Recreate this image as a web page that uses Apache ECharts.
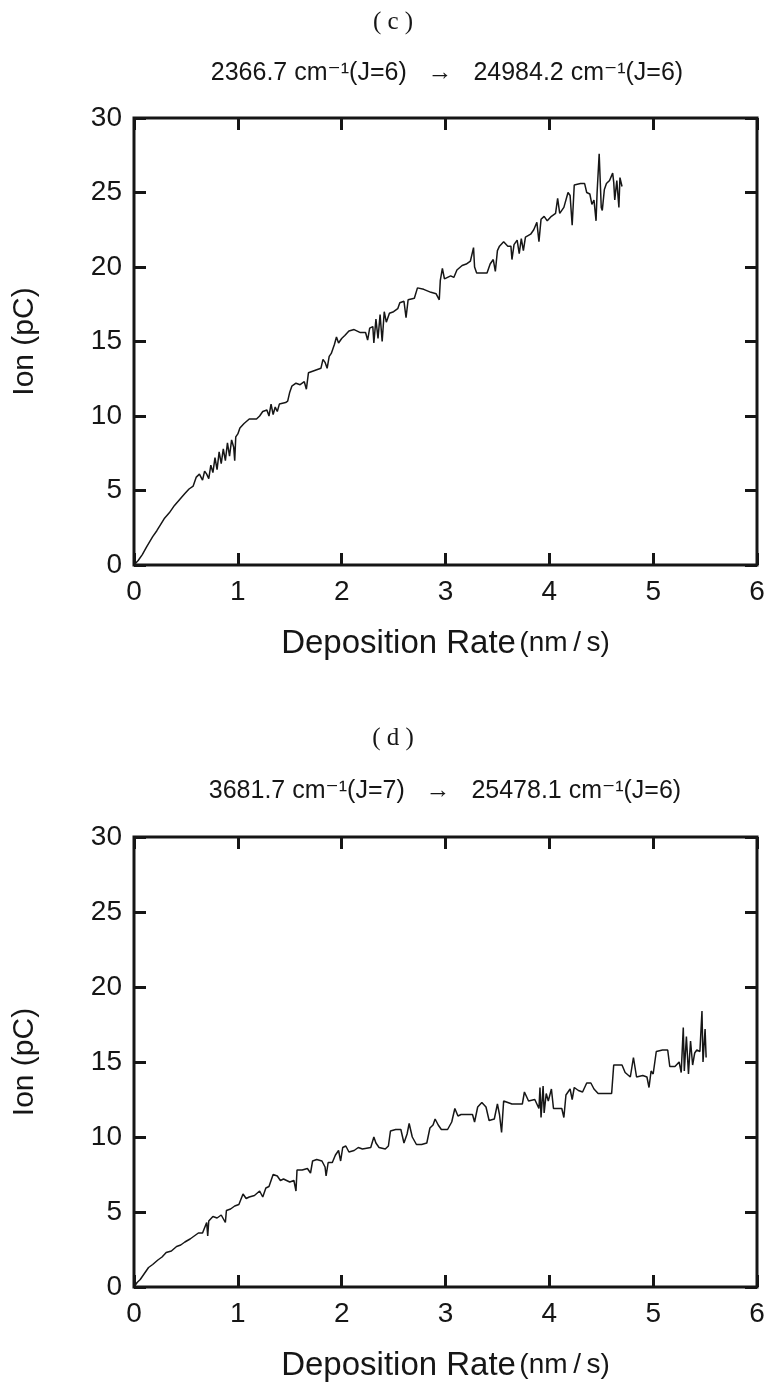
<!DOCTYPE html>
<html>
<head>
<meta charset="utf-8">
<title>Ion vs Deposition Rate</title>
<script src="https://cdn.jsdelivr.net/npm/echarts@6/dist/echarts.min.js"></script>
<style>
	html, body { margin: 0; padding: 0; background: #ffffff; }
	#main { width: 774px; height: 1389px; }
</style>
</head>
<body>
<div id="main"></div>
<script>
// panel (c): 2366.7 cm-1 (J=6) -> 24984.2 cm-1 (J=6)
const rateC = [0, 0.04, 0.08, 0.12, 0.18, 0.22, 0.29, 0.34, 0.39, 0.44, 0.49, 0.53, 0.57, 0.60, 0.63, 0.66, 0.68, 0.70, 0.72, 0.74,
	0.76, 0.78, 0.80, 0.82, 0.84, 0.86, 0.88, 0.90, 0.92, 0.94, 0.96, 0.97, 0.98, 1.00, 1.02, 1.06, 1.11, 1.18, 1.21, 1.24,
	1.28, 1.30, 1.32, 1.34, 1.36, 1.38, 1.40, 1.46, 1.48, 1.50, 1.52, 1.56, 1.60, 1.64, 1.66, 1.68, 1.72, 1.76, 1.80, 1.82,
	1.84, 1.86, 1.88, 1.90, 1.93, 1.95, 1.97, 2.00, 2.03, 2.07, 2.12, 2.18, 2.23, 2.25, 2.27, 2.30, 2.31, 2.33, 2.35, 2.37,
	2.39, 2.41, 2.43, 2.46, 2.50, 2.54, 2.56, 2.60, 2.62, 2.64, 2.70, 2.73, 2.79, 2.86, 2.91, 2.94, 2.95, 2.97, 2.99, 3.05,
	3.08, 3.11, 3.16, 3.20, 3.24, 3.27, 3.28, 3.30, 3.36, 3.40, 3.43, 3.46, 3.48, 3.50, 3.52, 3.56, 3.60, 3.63, 3.64, 3.66,
	3.69, 3.71, 3.73, 3.75, 3.77, 3.82, 3.85, 3.88, 3.90, 3.92, 3.95, 3.98, 4.02, 4.06, 4.08, 4.10, 4.14, 4.18, 4.20, 4.22,
	4.24, 4.30, 4.34, 4.36, 4.39, 4.41, 4.43, 4.45, 4.46, 4.48, 4.50, 4.51, 4.53, 4.55, 4.58, 4.61, 4.62, 4.63, 4.65, 4.67,
	4.68, 4.70];
const ionC = [0, 0.3, 0.7, 1.2, 1.9, 2.3, 3.1, 3.5, 4.0, 4.4, 4.8, 5.1, 5.3, 5.9, 6.1, 5.7, 6.3, 6.1, 5.8, 6.7,
	6.2, 7.2, 6.4, 7.6, 6.8, 7.8, 7.0, 8.2, 7.3, 8.4, 7.9, 7.0, 8.6, 8.8, 9.2, 9.5, 9.8, 9.8, 10.0, 10.3,
	10.4, 10.0, 10.8, 10.1, 10.6, 10.3, 10.8, 10.9, 11.0, 11.6, 12.0, 12.2, 12.1, 12.3, 11.8, 12.9, 13.0, 13.1, 13.2, 13.8,
	13.6, 13.2, 14.0, 14.2, 14.8, 15.3, 14.9, 15.2, 15.4, 15.7, 15.8, 15.6, 15.6, 15.1, 15.9, 16.0, 14.9, 16.5, 15.2, 16.8,
	15.0, 17.0, 16.3, 16.9, 17.0, 17.2, 17.6, 17.7, 16.6, 17.8, 17.9, 18.6, 18.5, 18.3, 18.2, 17.8, 19.1, 19.9, 19.2, 19.4,
	19.3, 19.8, 20.1, 20.2, 20.4, 21.3, 20.0, 19.6, 19.6, 19.6, 20.2, 20.5, 19.7, 21.1, 21.4, 21.7, 21.4, 21.4, 20.5, 21.5,
	21.8, 20.9, 21.9, 21.1, 22.0, 22.2, 22.5, 23.0, 21.7, 23.2, 23.4, 23.1, 23.4, 23.6, 24.6, 23.6, 24.0, 25.0, 24.8, 22.8,
	25.5, 25.6, 25.6, 25.0, 24.9, 24.2, 24.5, 23.1, 25.0, 27.6, 24.0, 23.8, 25.2, 25.6, 25.8, 26.3, 25.7, 24.5, 25.8, 24.0,
	26.0, 25.4];

// panel (d): 3681.7 cm-1 (J=7) -> 25478.1 cm-1 (J=6)
const rateD = [0, 0.03, 0.06, 0.10, 0.14, 0.18, 0.23, 0.27, 0.31, 0.36, 0.41, 0.45, 0.49, 0.54, 0.58, 0.62, 0.66, 0.70, 0.71, 0.72,
	0.76, 0.80, 0.84, 0.88, 0.89, 0.93, 0.97, 1.01, 1.05, 1.08, 1.11, 1.16, 1.21, 1.24, 1.27, 1.30, 1.34, 1.38, 1.41, 1.44,
	1.50, 1.54, 1.56, 1.57, 1.62, 1.67, 1.70, 1.72, 1.76, 1.81, 1.84, 1.85, 1.87, 1.91, 1.94, 1.97, 1.99, 2.01, 2.04, 2.07,
	2.12, 2.16, 2.20, 2.28, 2.31, 2.33, 2.36, 2.42, 2.45, 2.47, 2.52, 2.57, 2.60, 2.63, 2.65, 2.68, 2.72, 2.77, 2.82, 2.85,
	2.88, 2.90, 2.93, 2.96, 3.02, 3.06, 3.09, 3.12, 3.15, 3.22, 3.26, 3.28, 3.31, 3.35, 3.39, 3.42, 3.47, 3.50, 3.52, 3.54,
	3.56, 3.60, 3.64, 3.70, 3.74, 3.76, 3.80, 3.86, 3.90, 3.91, 3.92, 3.94, 3.95, 3.97, 3.99, 4.02, 4.04, 4.08, 4.12, 4.14,
	4.16, 4.20, 4.22, 4.24, 4.28, 4.32, 4.36, 4.40, 4.43, 4.47, 4.54, 4.60, 4.62, 4.70, 4.73, 4.78, 4.81, 4.84, 4.90, 4.94,
	4.96, 4.98, 5.00, 5.03, 5.09, 5.14, 5.16, 5.21, 5.25, 5.27, 5.29, 5.30, 5.32, 5.34, 5.36, 5.38, 5.40, 5.42, 5.45, 5.47,
	5.48, 5.50, 5.51];
const ionD = [0, 0.3, 0.5, 0.9, 1.3, 1.5, 1.8, 2.0, 2.3, 2.4, 2.7, 2.8, 3.0, 3.2, 3.4, 3.6, 3.6, 4.3, 3.4, 4.4,
	4.7, 4.6, 4.8, 4.3, 5.1, 5.2, 5.4, 5.5, 6.2, 5.9, 6.0, 6.1, 6.4, 6.0, 6.6, 6.7, 7.5, 7.4, 7.1, 7.2,
	7.0, 7.1, 6.4, 7.8, 7.8, 7.9, 7.6, 8.4, 8.5, 8.4, 8.0, 7.4, 8.3, 8.3, 8.8, 9.1, 8.4, 9.3, 9.4, 9.0,
	9.1, 9.3, 9.2, 9.3, 10.0, 9.6, 9.3, 9.2, 9.4, 10.4, 10.5, 10.5, 9.6, 10.2, 10.9, 10.0, 9.5, 9.5, 9.6, 10.6,
	10.8, 11.2, 10.8, 10.5, 10.5, 11.0, 11.9, 11.4, 11.5, 11.5, 11.5, 11.0, 12.0, 12.3, 12.0, 11.1, 11.2, 12.2, 11.5, 10.3,
	12.4, 12.3, 12.2, 12.2, 12.2, 13.0, 12.4, 12.5, 11.9, 13.3, 11.3, 13.4, 11.6, 12.9, 12.4, 13.2, 11.9, 11.9, 11.9, 11.3,
	12.8, 13.2, 12.5, 13.3, 13.1, 13.0, 13.6, 13.6, 13.2, 12.9, 12.9, 12.9, 14.8, 14.8, 14.3, 14.0, 15.3, 14.0, 14.1, 14.0,
	13.3, 14.4, 14.2, 15.7, 15.8, 15.8, 14.7, 14.7, 15.0, 14.3, 17.3, 14.4, 16.7, 14.2, 16.4, 14.8, 15.6, 15.8, 15.7, 18.4,
	15.0, 17.2, 15.3];

const rateTicks = [0, 1, 2, 3, 4, 5, 6];
const ionTicks = [0, 5, 10, 15, 20, 25, 30];

const panelLabels = ["( c )", "( d )"];
const transitions = [
	"2366.7 cm\u207B\u00B9(J=6)   \u2192   24984.2 cm\u207B\u00B9(J=6)",
	"3681.7 cm\u207B\u00B9(J=7)   \u2192   25478.1 cm\u207B\u00B9(J=6)"
];

function pairs(xs, ys) {
	let out = [];
	for (let i = 0; i < xs.length; i++) {
		out.push([xs[i], ys[i]]);
	}
	return out;
}

const ink = "#161616";
const sans = "'Liberation Sans', Arial, sans-serif";
const tick = { inside: true, length: 12, lineStyle: { color: ink, width: 3 } };

function xAxes(idx) {
	return [
		{
			type: "value",
			gridIndex: idx,
			position: "bottom",
			min: rateTicks[0],
			max: rateTicks[rateTicks.length - 1],
			interval: 1,
			name: "{a|Deposition Rate} {b|(nm\u2009/\u2009s)}",
			nameLocation: "middle",
			nameGap: 62,
			nameTextStyle: {
				color: ink,
				rich: {
					a: { fontSize: 33, fontFamily: sans, color: ink },
					b: { fontSize: 28, fontFamily: sans, color: ink }
				}
			},
			axisLine: { show: false, onZero: false },
			axisTick: tick,
			axisLabel: { color: ink, fontSize: 28, fontFamily: sans, margin: 13 },
			splitLine: { show: false }
		},
		{
			type: "value",
			gridIndex: idx,
			position: "top",
			min: rateTicks[0],
			max: rateTicks[rateTicks.length - 1],
			interval: 1,
			axisLine: { show: false, onZero: false },
			axisTick: tick,
			axisLabel: { show: false },
			splitLine: { show: false }
		}
	];
}

function yAxes(idx) {
	return [
		{
			type: "value",
			gridIndex: idx,
			position: "left",
			min: ionTicks[0],
			max: ionTicks[ionTicks.length - 1],
			interval: 5,
			name: "Ion (pC)",
			nameLocation: "middle",
			nameGap: 94,
			nameTextStyle: { color: ink, fontSize: 30, fontFamily: sans },
			axisLine: { show: false, onZero: false },
			axisTick: tick,
			axisLabel: { color: ink, fontSize: 28, fontFamily: sans, margin: 12 },
			splitLine: { show: false }
		},
		{
			type: "value",
			gridIndex: idx,
			position: "right",
			min: ionTicks[0],
			max: ionTicks[ionTicks.length - 1],
			interval: 5,
			axisLine: { show: false, onZero: false },
			axisTick: tick,
			axisLabel: { show: false },
			splitLine: { show: false }
		}
	];
}

function headerText(x, y, text, font) {
	return {
		type: "text",
		x: x,
		y: y,
		style: {
			text: text,
			fill: ink,
			font: font,
			textAlign: "center",
			textVerticalAlign: "middle"
		}
	};
}

const labelFont = "25px 'Liberation Serif', serif";
const transFont = "25px 'Liberation Sans', 'DejaVu Sans', sans-serif";

let option = {
	backgroundColor: "#ffffff",
	animation: false,
	graphic: [
		headerText(393, 22, panelLabels[0], labelFont),
		headerText(447, 73, transitions[0], transFont),
		headerText(393, 738, panelLabels[1], labelFont),
		headerText(445, 791, transitions[1], transFont)
	],
	grid: [
		{ left: 134, top: 118, width: 623, height: 447, show: true, borderColor: ink, borderWidth: 3, backgroundColor: "transparent" },
		{ left: 134, top: 837, width: 623, height: 450, show: true, borderColor: ink, borderWidth: 3, backgroundColor: "transparent" }
	],
	xAxis: xAxes(0).concat(xAxes(1)),
	yAxis: yAxes(0).concat(yAxes(1)),
	series: [
		{
			name: "(c)",
			type: "line",
			xAxisIndex: 0,
			yAxisIndex: 0,
			data: pairs(rateC, ionC),
			showSymbol: false,
			lineStyle: { color: ink, width: 1.5 }
		},
		{
			name: "(d)",
			type: "line",
			xAxisIndex: 2,
			yAxisIndex: 2,
			data: pairs(rateD, ionD),
			showSymbol: false,
			lineStyle: { color: ink, width: 1.5 }
		}
	]
};

let chart = echarts.init(document.getElementById("main"));
chart.setOption(option, true);
</script>
</body>
</html>
